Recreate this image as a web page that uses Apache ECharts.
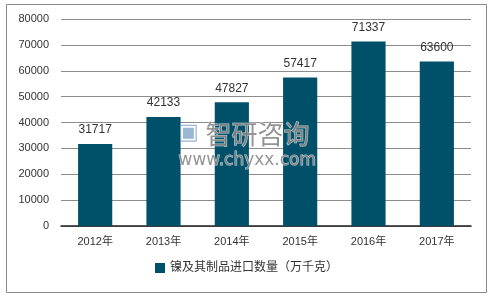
<!DOCTYPE html>
<html><head><meta charset="utf-8">
<script src="https://cdn.jsdelivr.net/npm/echarts@6/dist/echarts.min.js"></script>
<style>html,body{margin:0;padding:0;background:#fff}#c{width:493px;height:298px}</style>
</head><body><div id="c"></div>
<script>
var categories = ['2012年','2013年','2014年','2015年','2016年','2017年'];
var values = [31717, 42133, 47827, 57417, 71337, 63600];
var seriesName = '镍及其制品进口数量（万千克）';
var FONT = '"Liberation Sans", Arial, "Noto Sans CJK SC", sans-serif';
var chart = echarts.init(document.getElementById('c'), null, {renderer:'canvas'});
chart.setOption({
  animation: false,
  textStyle: {fontFamily: FONT},
  grid: {left: 61, right: 22, top: 19, bottom: 72},
  legend: {
    bottom: 19, left: 'center', itemWidth: 10, itemHeight: 10, icon: 'rect',
    textStyle: {fontSize: 12, color: '#333', fontFamily: FONT},
    data: [seriesName]
  },
  xAxis: {
    type: 'category', data: categories,
    axisLine: {lineStyle: {color: '#222', width: 1.5}},
    axisTick: {show: false},
    axisLabel: {fontSize: 11, color: '#333', margin: 10, fontFamily: FONT}
  },
  yAxis: {
    type: 'value', min: 0, max: 80000, interval: 10000,
    axisLine: {show: false}, axisTick: {show: false},
    splitLine: {lineStyle: {color: '#8c8c8c', width: 1}},
    axisLabel: {fontSize: 11, color: '#333', margin: 12, fontFamily: FONT, formatter: function (v) { return String(v); }}
  },
  series: [{
    name: seriesName, type: 'bar', data: values, barWidth: '50%',
    itemStyle: {color: '#01506a'},
    label: {show: true, position: 'top', distance: 8, fontSize: 12, color: '#333', fontFamily: FONT}
  }],
  graphic: [
    {type: 'rect', shape: {x: 6.5, y: 4.5, width: 480, height: 288}, style: {fill: 'none', stroke: '#8a8a8a', lineWidth: 1}, z: 100},
    {type: 'text', left: 178, top: 122, style: {text: '▣', fontSize: 22, fill: 'rgba(120,160,200,0.75)'}, z: 100},
    {type: 'text', left: 205, top: 121, style: {text: '智研咨询', fontSize: 26, fontFamily: '"Noto Sans CJK SC"', fill: 'rgba(130,130,130,0.85)', stroke: 'rgba(255,255,255,0.7)', lineWidth: 1}, z: 100},
    {type: 'text', left: 178, top: 152, style: {text: 'www.chyxx.com', fontSize: 17, fontFamily: 'DejaVu Sans', fill: 'rgba(130,130,130,0.85)', stroke: 'rgba(255,255,255,0.7)', lineWidth: 1}, z: 100}
  ]
});
</script></body></html>
